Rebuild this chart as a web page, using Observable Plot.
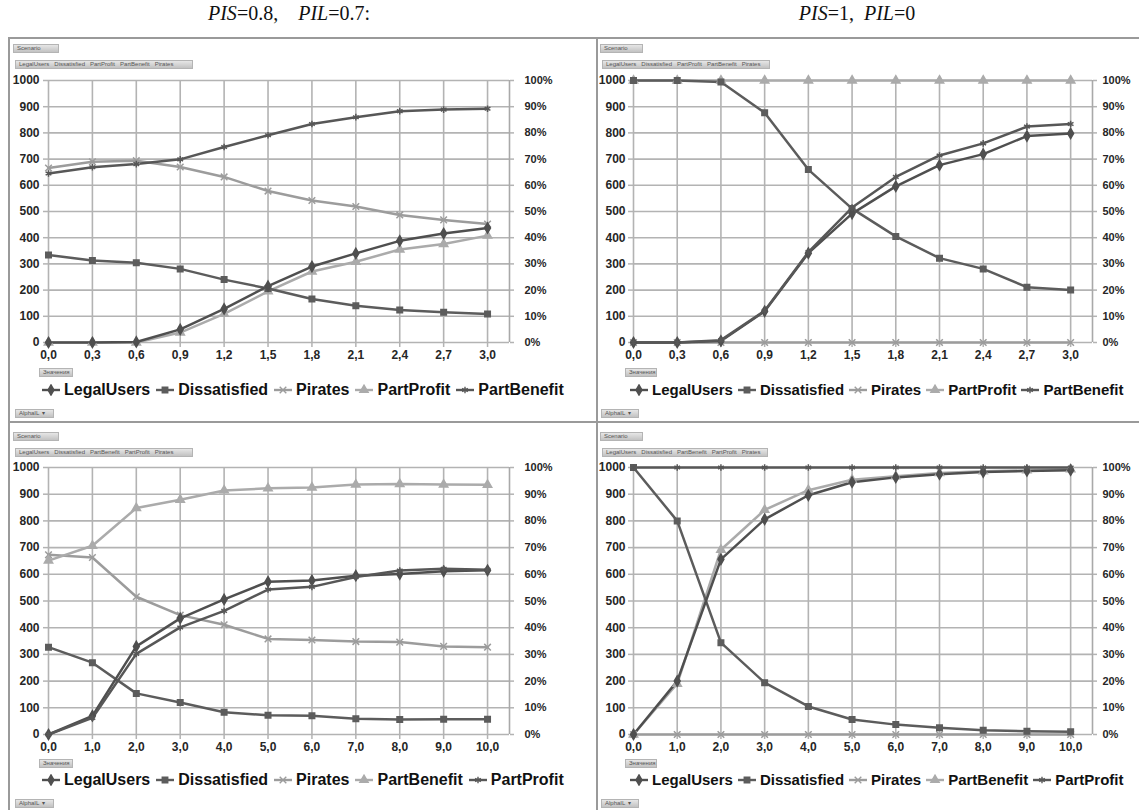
<!DOCTYPE html>
<html>
<head>
<meta charset="utf-8">
<script src="https://cdn.jsdelivr.net/npm/d3@7"></script>
<script src="https://cdn.jsdelivr.net/npm/@observablehq/plot@0.6"></script>
<style>
  html, body { margin: 0; padding: 0; background: #fff; }
  #root { position: relative; width: 1139px; height: 810px; overflow: hidden; font-family: "Liberation Sans", Arial, sans-serif; }
  .title { position: absolute; font-family: "Liberation Serif", "Times New Roman", serif; font-size: 20px; line-height: 20px; white-space: pre; color: #111; transform: translateX(-50%); }
  .btn { position: absolute; height: 9px; background: linear-gradient(#e6e6e6, #c2c2c2); border: 1px solid #b4b4b4; box-sizing: border-box; font-size: 6px; line-height: 7px; color: #555; padding: 0 3px; white-space: pre; overflow: hidden; }
  .legend { position: absolute; display: flex; align-items: center; font-weight: bold; color: #111; white-space: nowrap; height: 18px; line-height: 18px; }
  .item { display: flex; align-items: center; }
  .item svg { margin-right: 4px; }
  .hline { position: absolute; height: 0; border-top: 2px solid #9a9a9a; }
  .vline { position: absolute; width: 0; border-left: 2px solid #9a9a9a; }
  .plot { position: absolute; }
</style>
</head>
<body>
<div id="root"></div>
<script>
// ---------------- data ----------------
const alphaTop = [0.0, 0.3, 0.6, 0.9, 1.2, 1.5, 1.8, 2.1, 2.4, 2.7, 3.0];
const alphaBottom = [0, 1, 2, 3, 4, 5, 6, 7, 8, 9, 10];
const valueTicks = [0, 100, 200, 300, 400, 500, 600, 700, 800, 900, 1000];

const topSeries = ["LegalUsers", "Dissatisfied", "Pirates", "PartProfit", "PartBenefit"];
const bottomSeries = ["LegalUsers", "Dissatisfied", "Pirates", "PartBenefit", "PartProfit"];
const topFieldButtons = "LegalUsers   Dissatisfied   PartProfit   PartBenefit   Pirates";
const bottomFieldButtons = "LegalUsers   Dissatisfied   PartBenefit   PartProfit   Pirates";

// top-left: PIS=0.8, PIL=0.7
const tlLegalUsers   = [0, 0, 2, 50, 128, 215, 290, 340, 388, 416, 437];
const tlDissatisfied = [334, 313, 304, 281, 240, 206, 166, 140, 124, 115, 109];
const tlPirates      = [666, 690, 694, 670, 632, 578, 542, 519, 487, 468, 452];
const tlPartProfit   = [0, 0, 0, 38, 109, 195, 271, 308, 355, 376, 408];
const tlPartBenefit  = [645, 669, 681, 699, 746, 791, 834, 860, 883, 889, 892];

// top-right: PIS=1, PIL=0
const trLegalUsers   = [0, 0, 6, 119, 341, 492, 596, 677, 719, 788, 798];
const trDissatisfied = [1000, 1000, 994, 877, 660, 511, 405, 322, 281, 211, 200];
const trPirates      = [0, 0, 0, 0, 0, 0, 0, 0, 0, 0, 0];
const trPartProfit   = [1000, 1000, 1000, 1000, 1000, 1000, 1000, 1000, 1000, 1000, 1000];
const trPartBenefit  = [0, 0, 9, 121, 345, 515, 632, 714, 760, 824, 834];

// bottom-left
const blLegalUsers   = [0, 70, 330, 435, 506, 572, 577, 595, 601, 611, 615];
const blDissatisfied = [327, 269, 154, 120, 83, 72, 70, 59, 56, 57, 57];
const blPirates      = [673, 663, 516, 447, 411, 358, 354, 348, 346, 330, 327];
const blPartBenefit  = [651, 707, 848, 879, 914, 922, 925, 936, 938, 936, 935];
const blPartProfit   = [0, 62, 302, 401, 463, 543, 553, 590, 614, 621, 617];

// bottom-right
const brLegalUsers   = [0, 200, 656, 806, 896, 945, 963, 975, 983, 987, 990];
const brDissatisfied = [1000, 800, 344, 194, 105, 56, 37, 25, 16, 12, 10];
const brPirates      = [0, 0, 0, 0, 0, 0, 0, 0, 0, 0, 0];
const brPartBenefit  = [0, 190, 692, 841, 915, 954, 967, 979, 986, 989, 993];
const brPartProfit   = [1000, 1000, 1000, 1000, 1000, 1000, 1000, 1000, 1000, 1000, 1000];

// ---------------- styles (by legend position) ----------------
const styleColors  = ["#4f4f4f", "#5c5c5c", "#9c9c9c", "#ababab", "#575757"];
const styleSymbols = ["diamond", "square", "times", "triangle", "asterisk"];
const drawOrder = [2, 3, 1, 0, 4];
const d3Symbols = {diamond: d3.symbolDiamond, square: d3.symbolSquare, times: d3.symbolTimes, triangle: d3.symbolTriangle, asterisk: d3.symbolAsterisk};

const root = document.getElementById("root");

function el(tag, cls, css, html) {
  const e = document.createElement(tag);
  if (cls) e.className = cls;
  Object.assign(e.style, css || {});
  if (html != null) e.innerHTML = html;
  root.appendChild(e);
  return e;
}

function fmtComma(d) { return d.toFixed(1).replace(".", ","); }

function panel(xs, names, values, o) {
  const rows = [];
  drawOrder.forEach(i => {
    const n = names[i];
    values[n].forEach((v, j) => rows.push({alpha: xs[j], value: v, series: n}));
  });
  const xMax = d3.max(xs) * 1.05;
  const grid = "#b3b3b3";
  const chart = Plot.plot({
    width: o.width, height: o.height,
    marginLeft: o.ml, marginRight: o.mr, marginTop: o.mt, marginBottom: o.mb,
    style: {background: "transparent", fontFamily: "'Liberation Sans', Arial, sans-serif", fontWeight: "bold", fontSize: "12px", color: "#262626", overflow: "visible"},
    x: {domain: [0, xMax]},
    y: {domain: [0, 1000]},
    color: {domain: names, range: styleColors},
    symbol: {domain: names, range: styleSymbols},
    marks: [
      Plot.ruleY(valueTicks, {y: d => d, x1: 0, x2: xMax, stroke: grid, strokeWidth: 1.6}),
      Plot.ruleX(xs, {x: d => d, y1: 0, y2: 1000, stroke: grid, strokeWidth: 1.6}),
      Plot.ruleX([xMax], {x: d => d, y1: 0, y2: 1000, stroke: "#a9a9a9", strokeWidth: 1.6}),
      Plot.axisY(valueTicks, {anchor: "left", tickSize: 5, tickPadding: o.padL, stroke: grid, strokeWidth: 1.5, tickFormat: d => String(d), label: null}),
      Plot.axisY(valueTicks, {anchor: "right", tickSize: 4, tickPadding: o.padR, stroke: grid, strokeWidth: 1.5, fontSize: 11, tickFormat: d => (d / 10) + "%", label: null}),
      Plot.axisX(xs, {anchor: "bottom", tickSize: 5, tickPadding: 3, stroke: grid, strokeWidth: 1.5, tickFormat: fmtComma, label: null}),
      Plot.line(rows, {x: "alpha", y: "value", z: "series", stroke: "series", strokeWidth: 2.5}),
      Plot.dot(rows, {x: "alpha", y: "value", symbol: "series", stroke: "series", fill: "series", r: 3.1, strokeWidth: 1.5})
    ]
  });
  chart.classList.add("plot");
  Object.assign(chart.style, {left: o.left + "px", top: o.top + "px"});
  root.appendChild(chart);
}

function legend(names, left, top, fontSize, gap) {
  const box = el("div", "legend", {left: left + "px", top: top + "px", fontSize: fontSize + "px"});
  names.forEach((n, i) => {
    const item = document.createElement("div");
    item.className = "item";
    item.style.marginRight = gap + "px";
    const svg = d3.create("svg").attr("width", 18).attr("height", 12);
    svg.append("line").attr("x1", 0).attr("x2", 18).attr("y1", 6).attr("y2", 6)
      .attr("stroke", styleColors[i]).attr("stroke-width", 2.4);
    svg.append("path").attr("transform", "translate(9,6)")
      .attr("d", d3.symbol(d3Symbols[styleSymbols[i]], 30)())
      .attr("fill", styleColors[i]).attr("stroke", styleColors[i]).attr("stroke-width", 1.4);
    item.appendChild(svg.node());
    const t = document.createElement("span");
    t.textContent = n;
    item.appendChild(t);
    box.appendChild(item);
  });
}

function buttons(x0, yTop, fields, scenX2, rowX2) {
  el("div", "btn", {left: x0 + "px", top: yTop + "px", width: (scenX2 - x0) + "px"}, "Scenario");
  el("div", "btn", {left: (x0 + 2) + "px", top: (yTop + 16) + "px", width: (rowX2 - x0 - 2) + "px"}, fields);
}

// frame lines
el("div", "hline", {left: "8px", top: "37px", width: "1131px"});
el("div", "hline", {left: "8px", top: "421px", width: "1131px"});
el("div", "vline", {left: "8px", top: "37px", height: "773px"});
el("div", "vline", {left: "596px", top: "37px", height: "773px"});

// titles
el("div", "title", {left: "289px", top: "3px"}, "<i>PIS</i>=0.8,    <i>PIL</i>=0.7:");
el("div", "title", {left: "857px", top: "3px"}, "<i>PIS</i>=1,  <i>PIL</i>=0");

// buttons
buttons(13, 44, topFieldButtons, 59, 193);
buttons(600, 44, topFieldButtons, 643, 770);
buttons(13, 432, bottomFieldButtons, 59, 193);
buttons(600, 432, bottomFieldButtons, 643, 768);

el("div", "btn", {left: "39px", top: "368px", width: "34px"}, "Значения");
el("div", "btn", {left: "625px", top: "368px", width: "32px"}, "Значения");
el("div", "btn", {left: "39px", top: "759px", width: "34px"}, "Значения");
el("div", "btn", {left: "625px", top: "759px", width: "32px"}, "Значения");
el("div", "btn", {left: "15px", top: "409px", width: "39px"}, "AlphaIL  ▾");
el("div", "btn", {left: "601px", top: "409px", width: "38px"}, "AlphaIL  ▾");
el("div", "btn", {left: "15px", top: "799px", width: "39px"}, "AlphaIL  ▾");
el("div", "btn", {left: "601px", top: "799px", width: "38px"}, "AlphaIL  ▾");

// panels
panel(alphaTop, topSeries,
  {LegalUsers: tlLegalUsers, Dissatisfied: tlDissatisfied, Pirates: tlPirates, PartProfit: tlPartProfit, PartBenefit: tlPartBenefit},
  {left: 0, top: 70, width: 597, height: 300, ml: 48, mr: 88, mt: 10, mb: 28, padL: 4, padR: 11});
panel(alphaTop, topSeries,
  {LegalUsers: trLegalUsers, Dissatisfied: trDissatisfied, Pirates: trPirates, PartProfit: trPartProfit, PartBenefit: trPartBenefit},
  {left: 597, top: 70, width: 542, height: 300, ml: 36, mr: 47, mt: 10, mb: 28, padL: 3, padR: 6});
panel(alphaBottom, bottomSeries,
  {LegalUsers: blLegalUsers, Dissatisfied: blDissatisfied, Pirates: blPirates, PartBenefit: blPartBenefit, PartProfit: blPartProfit},
  {left: 0, top: 455, width: 597, height: 310, ml: 48, mr: 88, mt: 12, mb: 31, padL: 4, padR: 11});
panel(alphaBottom, bottomSeries,
  {LegalUsers: brLegalUsers, Dissatisfied: brDissatisfied, Pirates: brPirates, PartBenefit: brPartBenefit, PartProfit: brPartProfit},
  {left: 597, top: 455, width: 542, height: 310, ml: 36, mr: 47, mt: 12, mb: 31, padL: 3, padR: 6});

// legends
legend(topSeries, 42, 381, 16, 6);
legend(topSeries, 630, 381, 15, 5);
legend(bottomSeries, 42, 771, 16, 6);
legend(bottomSeries, 630, 771, 15, 5);
</script>
</body>
</html>
